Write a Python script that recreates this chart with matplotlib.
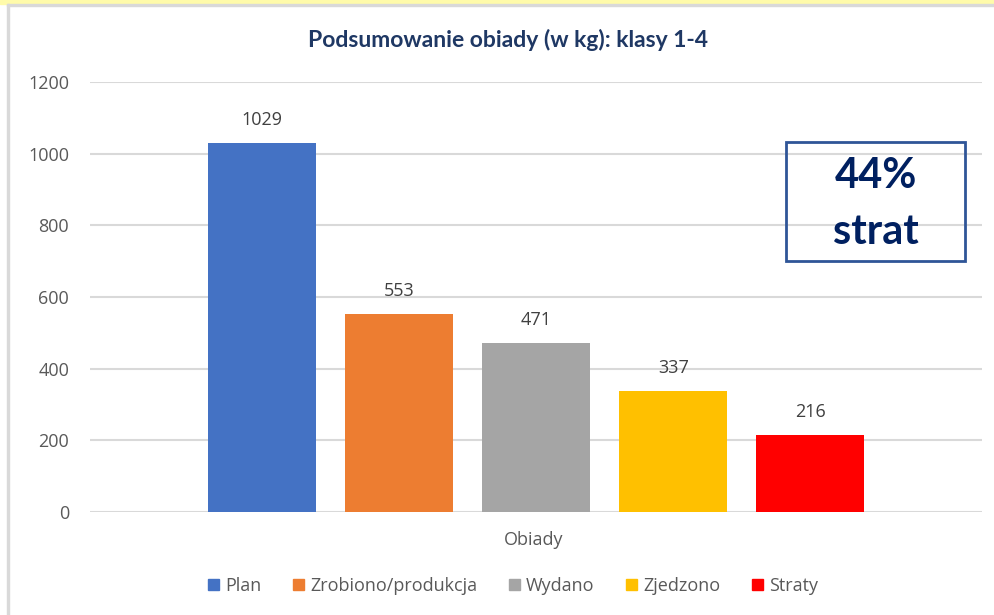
import matplotlib
matplotlib.use("Agg")
import matplotlib.pyplot as plt
from matplotlib.patches import Rectangle

series = ["Plan", "Zrobiono/produkcja", "Wydano", "Zjedzono", "Straty"]
values = [1029, 553, 471, 337, 216]
colors = ["#4472C4", "#ED7D31", "#A5A5A5", "#FFC000", "#FF0000"]
category = "Obiady"
title = "Podsumowanie obiady (w kg): klasy 1-4"
note = "44%\nstrat"
yticks = [0, 200, 400, 600, 800, 1000, 1200]

plt.rcParams['font.family'] = ['Open Sans', 'DejaVu Sans']

fig = plt.figure(figsize=(9.94, 6.15), dpi=100)
W, H = 994, 615

# frame decorations (yellow strip at top, grey border)
fig.patches.append(Rectangle((0, 1 - 4 / H), 1, 4 / H, transform=fig.transFigure,
                             color="#FFFBAA", zorder=0))
fig.patches.append(Rectangle((7 / W, 1 - 6 / H), 1, 2 / H, transform=fig.transFigure,
                             color="#D9D9D9", zorder=0))
fig.patches.append(Rectangle((7 / W, 0), 2 / W, 1 - 4 / H, transform=fig.transFigure,
                             color="#D9D9D9", zorder=0))

ax = fig.add_axes([90 / W, 1 - 512 / H, 892 / W, 430 / H])
x = list(range(len(values)))
bars = ax.bar(x, values, width=0.787, color=colors, zorder=3)
for b, v in zip(bars, values):
    ax.text(b.get_x() + b.get_width() / 2, v + 64, str(v), ha="center", va="center",
            fontsize=13, color="#404040")

ax.set_xlim(-1.25, 5.25)
ax.set_ylim(0, 1200)
ax.set_yticks(yticks)
ax.set_yticklabels([str(t) for t in yticks], fontsize=13, color="#595959")
ax.tick_params(axis="y", length=0, pad=15)
ax.set_xticks([])
ax.grid(axis="y", color="#D9D9D9", linewidth=1.5, zorder=0)
for s in ax.spines.values():
    s.set_visible(False)

fig.text(534 / W, 1 - 540 / H, category, ha="center", va="center", fontsize=13, color="#595959")
fig.text(508 / W, 1 - 40 / H, title, ha="center", va="center", fontsize=16.5,
         fontweight="bold", color="#1F3864", family=["Lato", "DejaVu Sans"])

# note box
fig.patches.append(Rectangle((786 / W, 1 - 261 / H), 179 / W, 119 / H, transform=fig.transFigure,
                             fill=False, edgecolor="#2F5597", linewidth=2, zorder=5))
fig.text(876 / W, 1 - 204 / H, note, ha="center", va="center", fontsize=30,
         fontweight="bold", color="#002060", linespacing=1.55, family=["Lato", "DejaVu Sans"])

handles = [Rectangle((0, 0), 1, 1, color=c) for c in colors]
fig.legend(handles, series, loc="center", bbox_to_anchor=(513 / W, 1 - 586 / H), ncol=5,
           frameon=False, fontsize=13, handlelength=0.6, handleheight=0.6,
           handletextpad=0.35, columnspacing=1.75, labelcolor="#595959")

fig.savefig("out.png", dpi=100)
